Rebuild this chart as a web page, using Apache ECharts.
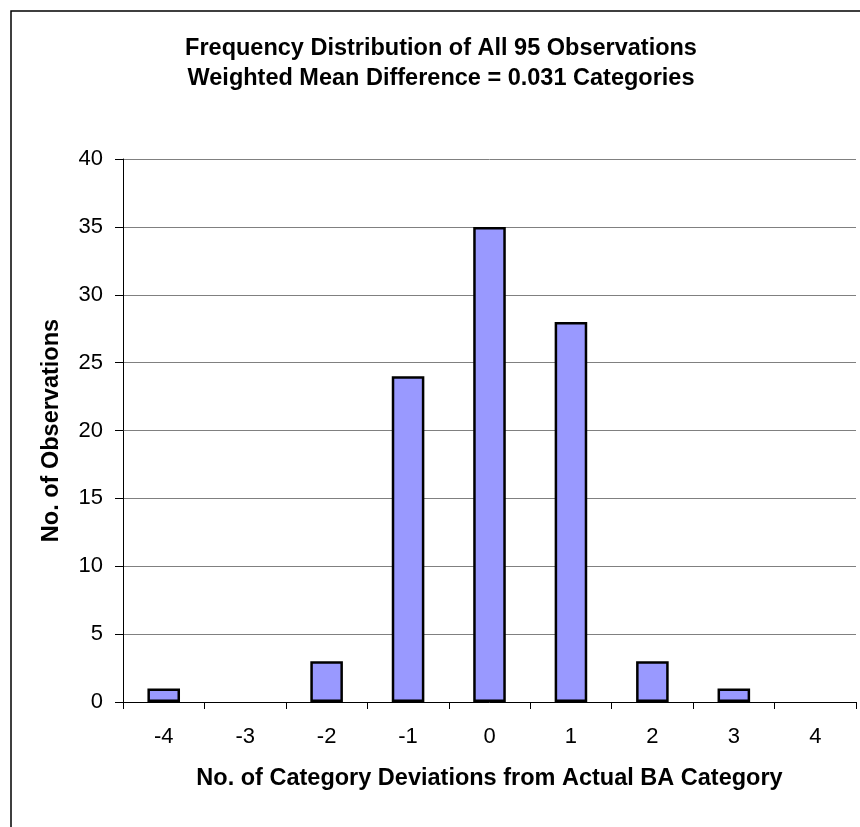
<!DOCTYPE html>
<html><head><meta charset="utf-8">
<script src="https://cdn.jsdelivr.net/npm/echarts@6/dist/echarts.min.js"></script>
<style>html,body{margin:0;padding:0;background:#fff}#c{width:860px;height:827px}</style>
</head><body><div id="c"></div>
<script>
const categories = ['-4','-3','-2','-1','0','1','2','3','4'];
const observations = [1, 0, 3, 24, 35, 28, 3, 1, 0];
const titleLines = ['Frequency Distribution of All 95 Observations','Weighted Mean Difference = 0.031 Categories'];
const xTitle = 'No. of Category Deviations from Actual BA Category';
const yTitle = 'No. of Observations';

const chart = echarts.init(document.getElementById('c'), null, {renderer:'canvas'});
const F = 'Liberation Sans, Arial, sans-serif';
chart.setOption({
  animation:false,
  backgroundColor:'#fff',
  graphic:[{type:'rect',shape:{x:11,y:11,width:900,height:900},style:{fill:'none',stroke:'#000',lineWidth:1.5},silent:true}],
  title:{text:titleLines.join('\n'),left:436,textAlign:'center',top:29,
    textStyle:{fontFamily:F,fontSize:23.5,fontWeight:'bold',color:'#000',lineHeight:30}},
  grid:{left:123,right:4,top:159,bottom:125},
  xAxis:{type:'category',data:categories,
    name:xTitle,nameLocation:'middle',nameGap:65,
    nameTextStyle:{fontFamily:F,fontSize:23.5,fontWeight:'bold',color:'#000'},
    axisLine:{lineStyle:{color:'#000',width:1}},
    axisTick:{show:true,length:7,lineStyle:{color:'#000'}},
    axisLabel:{fontFamily:F,fontSize:22,color:'#000',margin:24}},
  yAxis:{type:'value',min:0,max:40,interval:5,
    name:yTitle,nameLocation:'middle',nameGap:59,
    nameTextStyle:{fontFamily:F,fontSize:23.5,fontWeight:'bold',color:'#000'},
    axisLine:{show:true,lineStyle:{color:'#000',width:1}},
    axisTick:{show:true,length:8,lineStyle:{color:'#000'}},
    axisLabel:{fontFamily:F,fontSize:22,color:'#000',margin:20},
    splitLine:{lineStyle:{color:'#808080',width:1}}},
  series:[{type:'bar',data:observations.map(v => v === 0 ? null : v),barWidth:'40%',
    itemStyle:{color:'#9999FF',borderColor:'#000',borderWidth:2.5}}]
});
</script></body></html>
